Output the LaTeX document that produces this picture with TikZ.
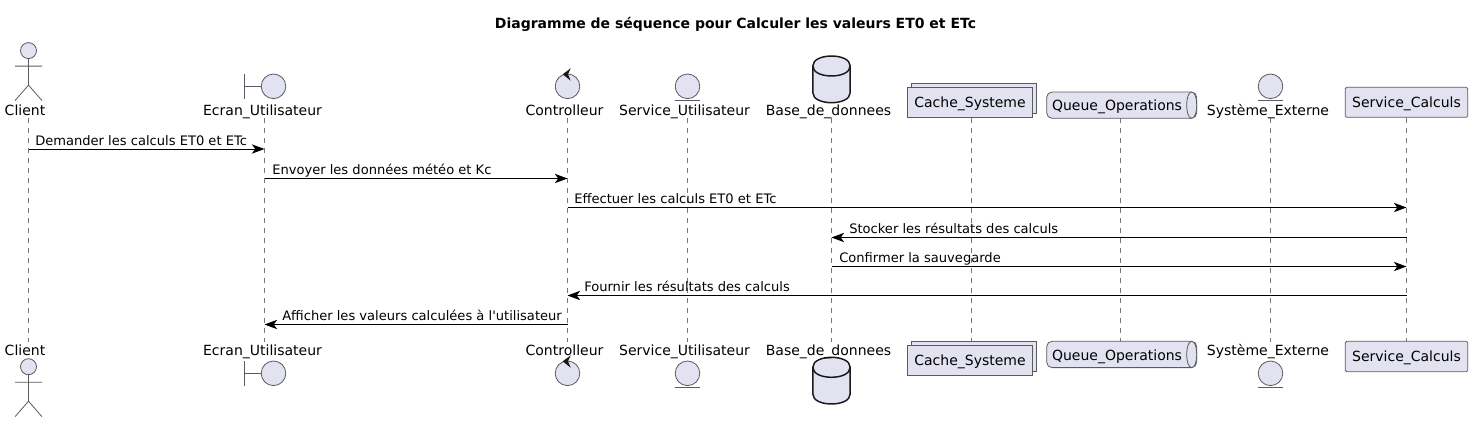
\documentclass[tikz,border=0pt]{standalone}
\usepackage{fontspec}
\setmainfont{DejaVu Sans}
\usetikzlibrary{arrows.meta}
\definecolor{fondbleu}{HTML}{E2E2F0}
\definecolor{trait}{HTML}{5A5A62}
\definecolor{vie}{HTML}{777777}
\tikzset{
  contour/.style={draw=trait,fill=fondbleu,line width=0.6pt},
  vieligne/.style={draw=vie,line width=0.6pt,dash pattern=on 3.75pt off 3.75pt},
  msg/.style={draw=black,line width=0.7pt,-{Stealth[length=9.5pt,width=7pt,inset=2.6pt]}},
  txt/.style={inner sep=0pt,font=\fontsize{10.5}{12}\selectfont,text=black},
  msgtxt/.style={txt,anchor=base west,font=\fontsize{9.8}{12}\selectfont},
  nom/.style={txt,anchor=base},
  acteur/.pic={
    \draw[contour] (0,0) circle (8);
    \draw[draw=trait,line width=0.6pt] (0,8.5) -- (0,34.5) (-13.5,15.5) -- (13.5,15.5)
      (-13.5,50) -- (0,34.5) -- (13.5,50);
  },
  frontiere/.pic={
    \draw[contour] (0,0) circle (12.3);
    \draw[draw=trait,line width=0.6pt] (-29,-12.3) -- (-29,12.3) (-29,0) -- (-12.3,0);
  },
  controle/.pic={
    \draw[contour] (0,0) circle (12.3);
    \fill[black!90] (3.2,-18) -- (-4.8,-12) -- (3.2,-5.6) -- (0.5,-12) -- cycle;
  },
  entite/.pic={
    \draw[contour] (0,0) circle (12.3);
    \draw[draw=trait,line width=0.6pt] (-12.3,14) -- (12.3,14);
  },
  base/.pic={
    \draw[contour,draw=black!90,line width=1.1pt] (-18.7,10) .. controls (-18.7,-3.3) and (18.7,-3.3) .. (18.7,10)
      -- (18.7,36.7) .. controls (18.7,50) and (-18.7,50) .. (-18.7,36.7) -- cycle;
    \draw[draw=black!90,line width=1.1pt] (-18.7,10) .. controls (-18.7,23.3) and (18.7,23.3) .. (18.7,10);
  },
  pile/.pic={
    \draw[contour] (4,-4) rectangle (129.4,26);
    \draw[contour] (0,0) rectangle (125.4,30);
  },
  tube/.pic={
    \draw[contour,rounded corners=4pt] (0,0) rectangle (150,26.3);
    \draw[contour] (145,0) .. controls (138.3,0) and (138.3,26.3) .. (145,26.3)
      .. controls (151.7,26.3) and (151.7,0) .. (145,0);
  }
}
\begin{document}
\begin{tikzpicture}[x=.75pt,y=-.75pt]
\useasboundingbox (0,0) rectangle (1472,422);

\node[txt,font=\fontsize{10.5}{12}\selectfont\bfseries,anchor=base] (titre) at (735.5,28) {Diagramme de séquence pour Calculer les valeurs ET0 et ETc};

% lignes de vie
\foreach \n/\x in {client/28.5,ecran/264.5,ctrl/567.5,servU/687.5,bdd/831.5,cache/971.5,queue/1120.5,ext/1270.5,servC/1406.5}{
  \coordinate (\n) at (\x,118);
  \coordinate (\n B) at (\x,342);
  \draw[vieligne] (\n) -- (\n B);
}

% haut
\pic at (28.5,50.6) {acteur};
\pic at (273.5,86.3) {frontiere};
\pic at (567.5,86.3) {controle};
\pic at (687.5,86.3) {entite};
\pic at (831.5,56) {base};
\pic at (907.3,87.3) {pile};
\pic at (1046.7,92) {tube};
\pic at (1270.5,86.3) {entite};
\draw[contour,rounded corners=1pt] (1345.3,87.3) rectangle (1467.7,117.3);

\node[nom] (n1) at (25,115) {Client};
\node[nom] (n2) at (262.5,115) {Ecran\_Utilisateur};
\node[nom] (n3) at (564.5,115) {Controlleur};
\node[nom] (n4) at (684.5,115) {Service\_Utilisateur};
\node[nom] (n5) at (828.5,115) {Base\_de\_donnees};
\node[nom] (n6) at (970,107) {Cache\_Systeme};
\node[nom] (n7) at (1117,110) {Queue\_Operations};
\node[nom] (n8) at (1268,115) {Système\_Externe};
\node[nom] (n9) at (1406.5,107) {Service\_Calculs};

% bas
\pic at (28.5,366.7) {acteur};
\pic at (273.5,373.3) {frontiere};
\pic at (567.5,373.3) {controle};
\pic at (687.5,373.3) {entite};
\pic at (831.5,357.3) {base};
\pic at (907.3,345.7) {pile};
\pic at (1046.7,341.3) {tube};
\pic at (1270.5,373.3) {entite};
\draw[contour,rounded corners=1pt] (1345.3,341.3) rectangle (1467.7,371.7);

\node[nom] (b1) at (25,355) {Client};
\node[nom] (b2) at (262.5,355) {Ecran\_Utilisateur};
\node[nom] (b3) at (564.5,355) {Controlleur};
\node[nom] (b4) at (684.5,355) {Service\_Utilisateur};
\node[nom] (b5) at (828.5,355) {Base\_de\_donnees};
\node[nom] (b6) at (970,365) {Cache\_Systeme};
\node[nom] (b7) at (1117,360) {Queue\_Operations};
\node[nom] (b8) at (1268,355) {Système\_Externe};
\node[nom] (b9) at (1406.5,361) {Service\_Calculs};

% messages
\foreach \r/\y in {r1/149,r2/178.5,r3/207.5,r4/237.5,r5/266.5,r6/295.5,r7/324.5}
  \coordinate (\r) at (0,\y);

\draw[msg] (client |- r1) -- (ecran |- r1);
\node[msgtxt] (m1) at (35,145) {Demander les calculs ET0 et ETc};
\draw[msg] (ecran |- r2) -- (ctrl |- r2);
\node[msgtxt] (m2) at (272,174.5) {Envoyer les données météo et Kc};
\draw[msg] (ctrl |- r3) -- (servC |- r3);
\node[msgtxt] (m3) at (574,203.5) {Effectuer les calculs ET0 et ETc};
\draw[msg] (servC |- r4) -- (bdd |- r4);
\node[msgtxt] (m4) at (849,233.5) {Stocker les résultats des calculs};
\draw[msg] (bdd |- r5) -- (servC |- r5);
\node[msgtxt] (m5) at (839,262.5) {Confirmer la sauvegarde};
\draw[msg] (servC |- r6) -- (ctrl |- r6);
\node[msgtxt] (m6) at (584,291.5) {Fournir les résultats des calculs};
\draw[msg] (ctrl |- r7) -- (ecran |- r7);
\node[msgtxt] (m7) at (282,320.5) {Afficher les valeurs calculées à l\textquotesingle utilisateur};
\end{tikzpicture}
\end{document}
